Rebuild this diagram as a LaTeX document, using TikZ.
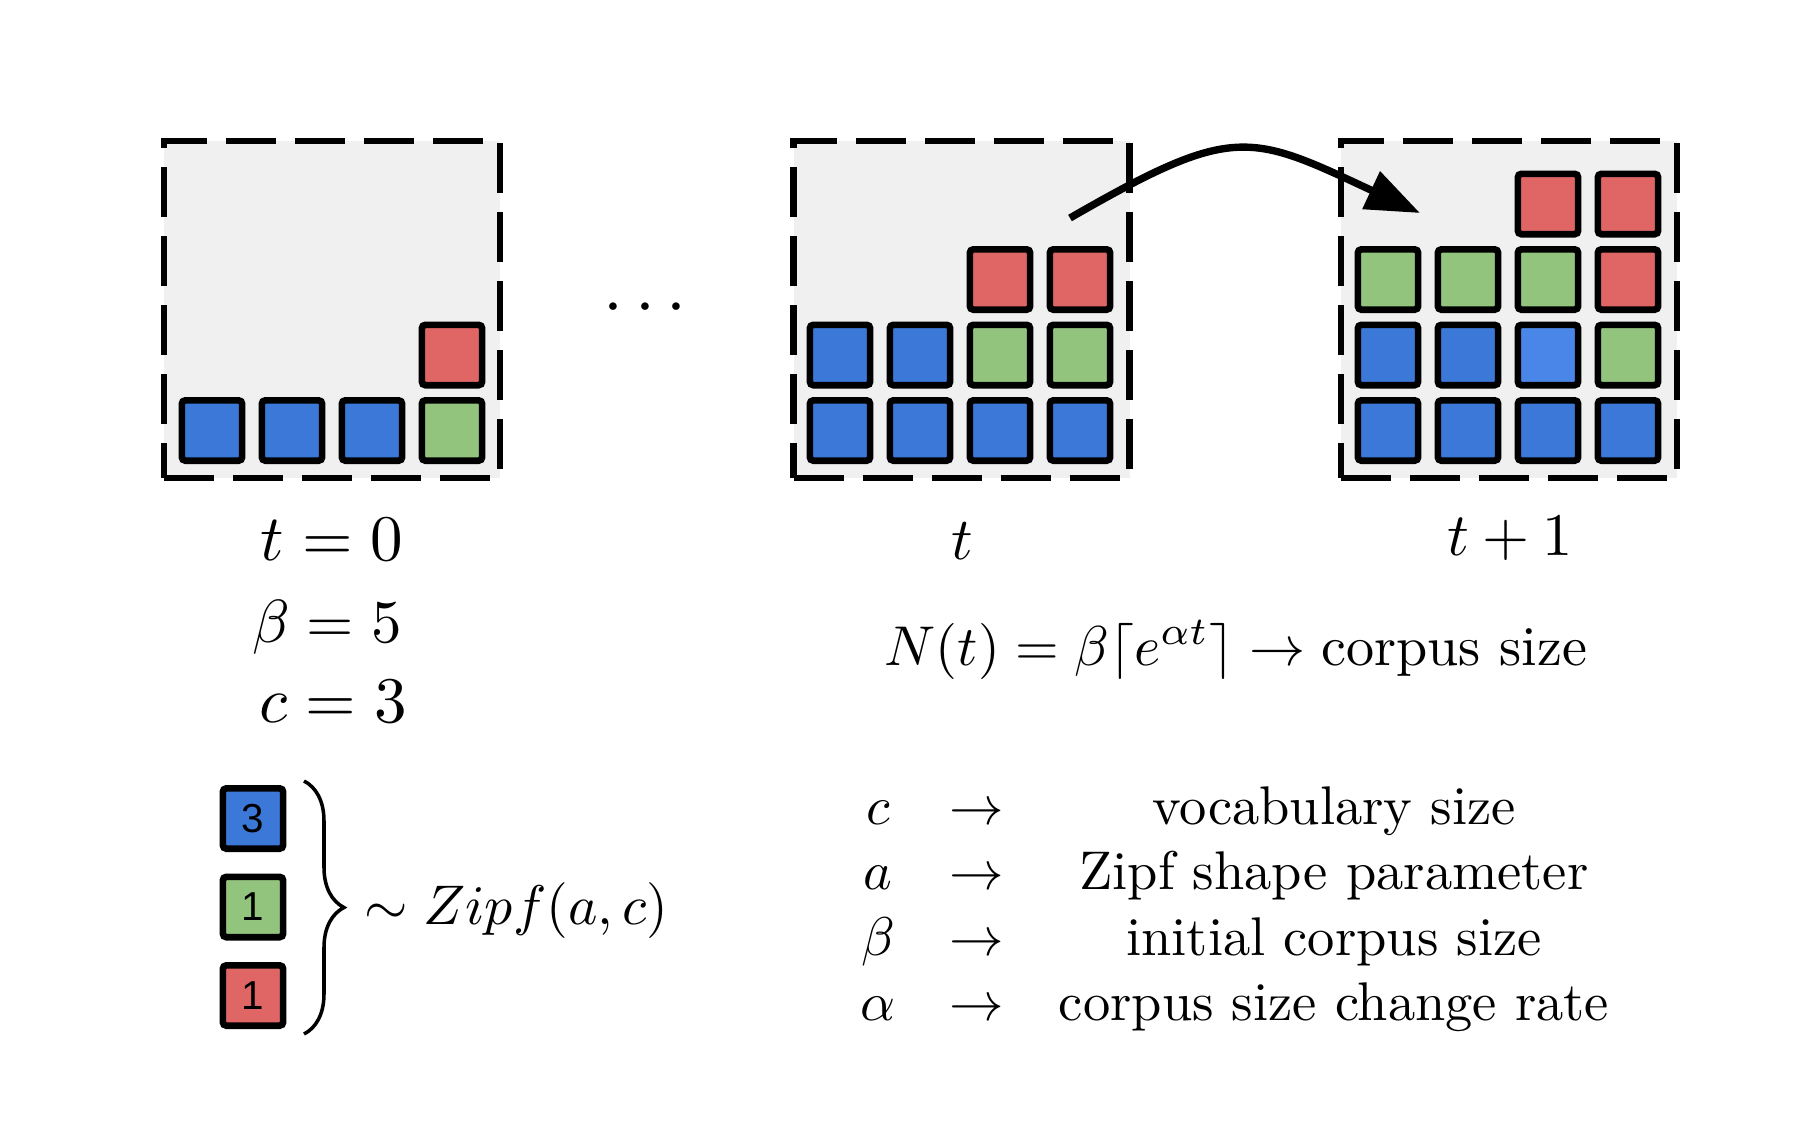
\documentclass[tikz,border=0pt]{standalone}
\usepackage{amsmath,amssymb}
\usepackage{fontspec}
\newfontfamily\chiffre{Liberation Sans}
\usepackage{tikz}
\usetikzlibrary{positioning,arrows.meta,decorations.pathreplacing}

\definecolor{bleu}{HTML}{3C78D8}
\definecolor{bleuclair}{HTML}{4A86E8}
\definecolor{vert}{HTML}{93C47D}
\definecolor{rouge}{HTML}{E06666}
\definecolor{fond}{HTML}{F0F0F0}

\tikzset{
  boite/.style={draw, fill=fond, line width=1.8pt, dash pattern=on 0.5cm off 0.19cm,
    minimum width=3.36cm, minimum height=3.37cm, inner sep=0pt},
  carre/.style={draw, line width=1.9pt, rounded corners=1pt, minimum size=0.603cm, inner sep=0pt},
  etiq/.style={anchor=base, scale=1.85, transform shape},
  legende/.style={anchor=base, scale=1.55, transform shape}
}

\begin{document}
\begin{tikzpicture}
  \useasboundingbox (0,0) rectangle (18,-11.39);

  % Boites (t = 0, t, t+1)
  \node[boite] (b0) at (3.32,-3.095) {};
  \node[boite] (b1) at (9.615,-3.095) {};
  \node[boite] (b2) at (15.09,-3.095) {};

  % Mots a t = 0
  \foreach \col/\row/\clr in {0/0/bleu, 1/0/bleu, 2/0/bleu, 3/0/vert, 3/1/rouge} {
    \node[carre, fill=\clr] (a\col\row) at (2.12+0.8*\col, -4.305+0.755*\row) {};
  }

  % Mots a t
  \foreach \col/\row/\clr in {0/0/bleu, 1/0/bleu, 2/0/bleu, 3/0/bleu,
      0/1/bleu, 1/1/bleu, 2/1/vert, 3/1/vert, 2/2/rouge, 3/2/rouge} {
    \node[carre, fill=\clr] (m\col\row) at (8.40+0.8*\col, -4.305+0.755*\row) {};
  }

  % Mots a t+1
  \foreach \col/\row/\clr in {0/0/bleu, 1/0/bleu, 2/0/bleu, 3/0/bleu,
      0/1/bleu, 1/1/bleu, 2/1/bleuclair, 3/1/vert,
      0/2/vert, 1/2/vert, 2/2/vert, 3/2/rouge, 2/3/rouge, 3/3/rouge} {
    \node[carre, fill=\clr] (p\col\row) at (13.88+0.8*\col, -4.305+0.755*\row) {};
  }

  % Points de suspension
  \node[etiq, scale=1.1] (pts) at (6.51,-3.24) {$\cdots$};

  % Etiquettes des instants
  \node[etiq] (l0) at (3.32,-5.60) {$t = 0$};
  \node[etiq, scale=0.92] (l1) at (9.62,-5.59) {$t$};
  \node[etiq, scale=0.93] (l2) at (15.10,-5.55) {$t + 1$};
  \node[etiq, scale=0.935] (beta) at (3.27,-6.42) {$\beta = 5$};
  \node[etiq] (cval) at (3.33,-7.22) {$c = 3$};

  % Taille du corpus
  \node[legende, scale=1.03] (taille) at (12.36,-6.65) {$N(t) = \beta\lceil e^{\alpha t}\rceil \rightarrow \text{corpus size}$};

  % Fleche de t vers t+1
  \coordinate (dep) at (10.70,-2.18);
  \coordinate (arr) at (14.20,-2.13);
  \draw[line width=2.1pt, -{Triangle[length=0.54cm, width=0.4cm]}]
    (dep) .. controls (12.34,-1.235) and (12.49,-1.33) .. (arr);

  % Distribution de Zipf
  \foreach \clr/\nb [count=\i from 0] in {bleu/3, vert/1, rouge/1} {
    \node[carre, fill=\clr, font=\chiffre\fontsize{11.5}{13}\selectfont] (z\i) at (2.53,-8.185-0.885*\i) {\nb};
  }
  \coordinate (bh) at (3.04,-7.81);
  \coordinate (bb) at (3.04,-10.34);
  \draw[line width=1pt, decorate, decoration={brace, amplitude=0.4cm}] (bh) -- (bb);
  \node[legende, anchor=base west, scale=1.025] (zipf) at (3.45,-9.24) {$\sim Zipf(a,c)$};

  % Legende
  \foreach \sym/\desc [count=\i from 0] in {c/vocabulary size, a/Zipf shape parameter,
      \beta/initial corpus size, \alpha/corpus size change rate} {
    \node[legende] (sym\i) at (8.78,-8.24-0.655*\i) {$\sym$};
    \node[legende] (fl\i) at (9.77,-8.24-0.655*\i) {$\rightarrow$};
    \node[legende] (txt\i) at (13.34,-8.24-0.655*\i) {\desc};
  }
\end{tikzpicture}
\end{document}
